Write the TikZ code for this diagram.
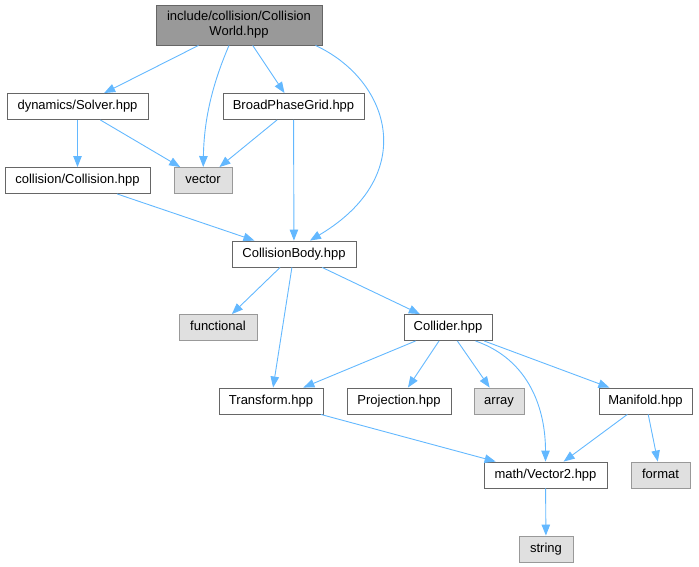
\documentclass[tikz,border=0pt]{standalone}
\usepackage{fontspec}
\setmainfont{Liberation Sans}
\usetikzlibrary{arrows.meta}
\definecolor{edgeblue}{HTML}{63B8FF}
\definecolor{boxgray}{HTML}{666666}
\definecolor{rootfill}{HTML}{999999}
\definecolor{sysgray}{HTML}{999999}
\definecolor{sysfill}{HTML}{E0E0E0}
\tikzset{
	boxbase/.style={draw=boxgray, fill=white, line width=0.9pt, inner sep=0pt, font=\fontsize{13}{15}\selectfont},
	file/.style={boxbase, minimum height=26pt, text height=9.6pt, text depth=2.8pt},
	rootfile/.style={boxbase, fill=rootfill, minimum height=40pt, align=center},
	sysfile/.style={file, draw=sysgray, fill=sysfill},
	dep/.style={draw=edgeblue, line width=0.9pt, -{Triangle[length=11pt,width=8.5pt]}}
}

\begin{document}
\begin{tikzpicture}[x=1pt,y=-1pt]
			%%%%% START %%%%%
			\useasboundingbox (0,0) rectangle (699,567);
			
			\node[rootfile, minimum width=166pt] (world) at (239,25) {include/collision/Collision\\World.hpp};
			\node[file, minimum width=141pt] (solver) at (77.5,106.5) {dynamics/Solver.hpp};
			\node[file, minimum width=141pt] (grid) at (293.5,106.5) {BroadPhaseGrid.hpp};
			\node[sysfile, minimum width=58pt] (vector) at (203,180.5) {vector};
			\node[file, minimum width=145pt] (collision) at (77.5,180.5) {collision/Collision.hpp};
			\node[file, minimum width=124pt] (body) at (294,254) {CollisionBody.hpp};
			
			\node[sysfile, minimum width=78pt] (functional) at (218,327.5) {functional};
			\node[file, minimum width=88pt] (collider) at (448,327.5) {Collider.hpp};
			\node[file, minimum width=104pt] (transform) at (271,401) {Transform.hpp};
			\node[file, minimum width=104pt] (projection) at (399,401) {Projection.hpp};
			\node[sysfile, minimum width=50pt] (array) at (499,401) {array};
			\node[file, minimum width=93pt] (manifold) at (645.5,401) {Manifold.hpp};
			\node[file, minimum width=123pt] (vec2) at (545.5,475) {math/Vector2.hpp};
			\node[sysfile, minimum width=59pt] (format) at (660.5,475) {format};
			\node[sysfile, minimum width=54pt] (string) at (546,549) {string};
			
			\draw[dep] (world) -- (solver);
			\draw[dep] ([xshift=-10pt]world.south) .. controls (212,85) and (204,120) .. (vector);
			\draw[dep] (world) -- (grid);
			\draw[dep] ([xshift=-7pt]world.south east) .. controls (390,80) and (420,175) .. ([xshift=16pt]body.north);
			
			\draw[dep] (solver) -- (collision);
			\draw[dep] (solver) -- (vector);
			\draw[dep] (grid) -- (vector);
			\draw[dep] (grid) -- (body);
			\draw[dep] (collision) -- (body);
			
			\draw[dep] (body) -- (functional);
			\draw[dep] (body) -- (transform);
			\draw[dep] (body) -- (collider);
			
			\draw[dep] (collider) -- (transform);
			\draw[dep] (collider) -- (projection);
			\draw[dep] (collider) -- (array);
			\draw[dep] ([xshift=-17pt]collider.south east) .. controls (530,360) and (545.5,410) .. (vec2);
			\draw[dep] (collider) -- (manifold);
			
			\draw[dep] (transform) -- (vec2);
			\draw[dep] (manifold) -- (vec2);
			\draw[dep] (manifold) -- (format);
			\draw[dep] (vec2) -- (string);
			%%%%% END %%%%%
\end{tikzpicture}
\end{document}
